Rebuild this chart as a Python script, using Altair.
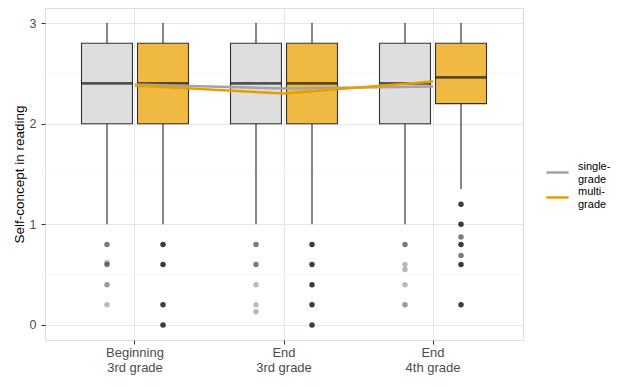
import altair as alt
import pandas as pd

# ---------------- data ----------------
stages = ["Beginning 3rd grade", "End 3rd grade", "End 4th grade"]
groups = ["single-grade", "multi-grade"]

# box-plot summaries (per stage)
single_lo = [1.0, 1.0, 1.0]
single_q1 = [2.0, 2.0, 2.0]
single_med = [2.4, 2.4, 2.4]
single_q3 = [2.8, 2.8, 2.8]
single_hi = [3.0, 3.0, 3.0]

multi_lo = [1.0, 1.0, 1.35]
multi_q1 = [2.0, 2.0, 2.2]
multi_med = [2.4, 2.4, 2.46]
multi_q3 = [2.8, 2.8, 2.8]
multi_hi = [3.0, 3.0, 3.0]

# group means (connected lines)
single_mean = [2.39, 2.35, 2.37]
multi_mean = [2.38, 2.30, 2.42]

# outliers: stage, group, value, number of overlapping cases
outlier_stage = (["Beginning 3rd grade"] * 5 + ["Beginning 3rd grade"] * 4
                 + ["End 3rd grade"] * 5 + ["End 3rd grade"] * 5
                 + ["End 4th grade"] * 5 + ["End 4th grade"] * 7)
outlier_group = (["single-grade"] * 5 + ["multi-grade"] * 4
                 + ["single-grade"] * 5 + ["multi-grade"] * 5
                 + ["single-grade"] * 5 + ["multi-grade"] * 7)
outlier_value = ([0.8, 0.62, 0.6, 0.4, 0.2] + [0.8, 0.6, 0.2, 0.0]
                 + [0.8, 0.6, 0.4, 0.2, 0.13] + [0.8, 0.6, 0.4, 0.2, 0.0]
                 + [0.8, 0.6, 0.55, 0.4, 0.2] + [1.2, 1.0, 0.875, 0.8, 0.69, 0.6, 0.2])
outlier_count = ([3, 1, 3, 2, 1] + [5, 5, 5, 5]
                 + [3, 3, 1, 1, 1] + [5, 5, 5, 5, 5]
                 + [3, 1, 1, 1, 2] + [5, 5, 3, 5, 3, 5, 5])

y_ticks = [0, 1, 2, 3]
minor_grid = [0.5, 1.5, 2.5]

# ---------------- tables ----------------
rows = []
for g, lo, q1, md, q3, hi, mn in [
    ("single-grade", single_lo, single_q1, single_med, single_q3, single_hi, single_mean),
    ("multi-grade", multi_lo, multi_q1, multi_med, multi_q3, multi_hi, multi_mean),
]:
    for i, s in enumerate(stages):
        rows.append(dict(stage=s, group=g, lo=lo[i], q1=q1[i], median=md[i],
                         q3=q3[i], hi=hi[i], mean=mn[i]))
box_df = pd.DataFrame(rows)

out_df = pd.DataFrame(dict(stage=outlier_stage, group=outlier_group,
                           value=outlier_value, count=outlier_count))
grid_df = pd.DataFrame(dict(v=minor_grid))

YTITLE = "Self-concept in reading"
yscale = alt.Scale(domain=[-0.15, 3.15], nice=False, zero=False)
yaxis = alt.Axis(values=y_ticks, title=YTITLE, grid=True, gridColor="#e6e6e6",
                 gridWidth=1, domain=False, tickColor="#333333", tickSize=4,
                 labelColor="#4d4d4d", labelFontSize=12.5, labelPadding=5,
                 titleFontSize=13.5, titleFontWeight="normal", titleColor="#000000",
                 titlePadding=3)


def Y(field):
    return alt.Y(field, type="quantitative", scale=yscale, axis=yaxis, title=YTITLE)


X = alt.X("stage:N", sort=stages, title=None,
          scale=alt.Scale(domain=stages, paddingInner=0, paddingOuter=0.104),
          axis=alt.Axis(labelAngle=0, grid=True, gridColor="#e6e6e6", bandPosition=0.5,
                        domain=False, tickColor="#333333", tickSize=4,
                        labelColor="#4d4d4d", labelFontSize=13, labelPadding=2,
                        labelExpr="[slice(datum.label, 0, indexof(datum.label, ' ')), "
                                  "slice(datum.label, indexof(datum.label, ' ') + 1)]"))
XO = alt.XOffset("group:N", sort=groups,
                 scale=alt.Scale(domain=groups, paddingInner=0.09, paddingOuter=0.375))

minor = alt.Chart(grid_df).mark_rule(color="#f2f2f2", strokeWidth=0.7).encode(y=Y("v"))

whisker = alt.Chart(box_df).mark_rule(color="#222222", strokeWidth=1.1).encode(
    x=X, xOffset=XO, y=Y("lo"), y2="hi")

box = alt.Chart(box_df).transform_calculate(boxgroup="datum.group").mark_bar(
    stroke="#333333", strokeWidth=1.1).encode(
    x=X, xOffset=XO, y=Y("q1"), y2="q3",
    fill=alt.Fill("boxgroup:N", scale=alt.Scale(domain=groups, range=["#dedede", "#efb942"]),
                  legend=None))

med = alt.Chart(box_df).mark_tick(color="#1a1a1a", thickness=2.8, size=51,
                                  orient="horizontal").encode(
    x=X, xOffset=XO, y=Y("median"))

pts = alt.Chart(out_df).mark_circle(size=30, color="#1a1a1a").encode(
    x=X, xOffset=XO, y=Y("value"),
    opacity=alt.Opacity("count:Q", scale=alt.Scale(domain=[1, 5], range=[0.3, 0.85]),
                        legend=None))

lines = alt.Chart(box_df).mark_line(strokeWidth=2.5).encode(
    x=X, y=Y("mean"),
    color=alt.Color("group:N", sort=groups,
                    scale=alt.Scale(domain=groups, range=["#a3a3a3", "#e69f00"]),
                    legend=alt.Legend(title=None, orient="none", legendX=500, legendY=152,
                                      padding=0, symbolType="stroke", symbolStrokeWidth=2.5,
                                      symbolSize=500, labelFontSize=11, labelOffset=8,
                                      labelColor="#000000", labelBaseline="line-bottom",
                                      rowPadding=-5,
                                      labelExpr="[slice(datum.label, 0, indexof(datum.label, '-') + 1), "
                                                "slice(datum.label, indexof(datum.label, '-') + 1)]")))

chart = alt.layer(minor, whisker, box, med, pts, lines).resolve_scale(
    color="independent", fill="independent"
).properties(
    width=478, height=332,
    padding={"left": 4, "top": 0, "right": 0, "bottom": 3}
).configure_view(stroke="#8c8c8c", strokeWidth=1.1).configure(
    font="Liberation Sans"
)

chart.save("out.html", embed_options={"renderer": "svg", "actions": False})
